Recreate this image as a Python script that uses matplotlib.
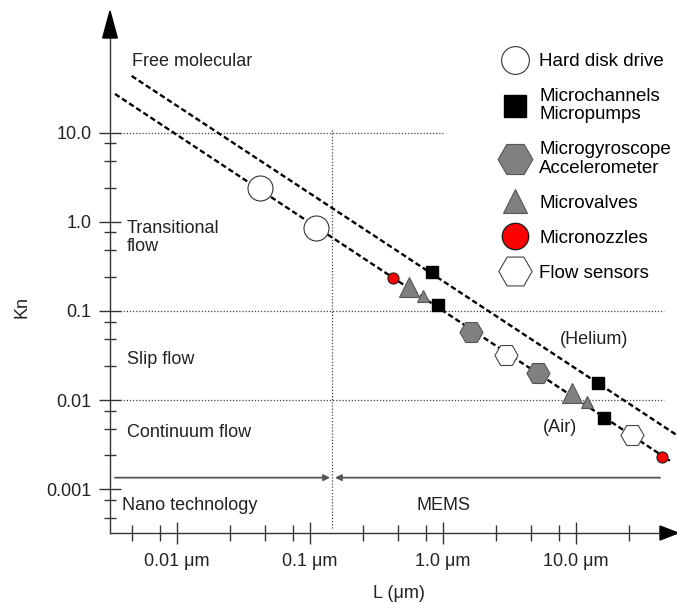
import numpy as np
import matplotlib.pyplot as plt
from matplotlib.lines import Line2D
from matplotlib.patches import Polygon
from matplotlib.ticker import NullFormatter

plt.rcParams['font.family'] = ['Liberation Sans', 'DejaVu Sans']
TXT = '#222222'
AX = '#333333'

# ---- data (L in um, Kn dimensionless)
air_line_L = [0.00344, 50.8]
air_line_Kn = [27.2, 0.00209]
he_line_L = [0.00459, 57.1]
he_line_Kn = [43.3, 0.00406]

hdd_L = [0.0423, 0.1106]
hdd_Kn = [2.38, 0.847]
chan_L = [0.828, 0.914, 14.71, 16.32]
chan_Kn = [0.274, 0.1168, 0.0157, 0.00635]
gyro_L = [1.618, 5.155]
gyro_Kn = [0.0586, 0.020]
valve_big_L = [0.559, 9.28]
valve_big_Kn = [0.1873, 0.01193]
valve_small_L = [0.712, 12.0]
valve_small_Kn = [0.1484, 0.00946]
nozzle_L = [0.424, 44.5]
nozzle_Kn = [0.236, 0.00232]
sensor_L = [2.98, 26.2]
sensor_Kn = [0.0321, 0.00406]

x_major = [0.01, 0.1, 1.0, 10.0]
x_major_labels = ["0.01 μm", "0.1 μm", "1.0 μm", "10.0 μm"]
y_major = [10.0, 1.0, 0.1, 0.01, 0.001]
y_major_labels = ["10.0", "1.0", "0.1", "0.01", "0.001"]

# regime boundaries
regime_Kn = [10.0, 0.1, 0.01]
regime_end_L = [1.0, 46.0, 46.0]
nano_mems_L = 0.146
scale_Kn = 0.00135

W, H = 677, 603


def fx(px):
    return px / W


def fy(py):
    return 1 - py / H


fig = plt.figure(figsize=(W / 100, H / 100), dpi=100)
ax = fig.add_axes([fx(110), fy(533), fx(660) - fx(110), fy(38) - fy(533)])
ax.set_xscale('log')
ax.set_yscale('log')
ax.set_xlim(3.155e-3, 42.78)
ax.set_ylim(3.234e-4, 115.4)

for s in ['top', 'right']:
    ax.spines[s].set_visible(False)
for s in ['left', 'bottom']:
    ax.spines[s].set_color(AX)
    ax.spines[s].set_linewidth(1.0)

# ticks
x_minor = [m * d for d in [0.001, 0.01, 0.1, 1, 10] for m in [2.5, 4.6, 7.5]]
x_minor = [v for v in x_minor if 3.2e-3 < v < 42]
y_minor = [m * d for d in [1e-4, 1e-3, 1e-2, 0.1, 1] for m in [2.4, 4.8, 7.6]]
y_minor = [v for v in y_minor if 3.3e-4 < v < 10]
ax.set_xticks(x_major)
ax.set_xticklabels(x_major_labels)
ax.set_xticks(x_minor, minor=True)
ax.set_yticks(y_major)
ax.set_yticklabels(y_major_labels)
ax.set_yticks(y_minor, minor=True)
ax.xaxis.set_minor_formatter(NullFormatter())
ax.yaxis.set_minor_formatter(NullFormatter())
ax.tick_params(which='major', direction='inout', length=16, width=1.0,
               color=AX, labelsize=13, labelcolor=TXT)
ax.tick_params(which='minor', direction='inout', width=1.0, color=AX)
ax.tick_params(axis='x', which='minor', length=12)
ax.tick_params(axis='y', which='minor', length=8.5)
ax.tick_params(axis='x', which='major', pad=6.5)
ax.tick_params(axis='y', which='major', pad=5.5)

# axis arrows
ax_px_w, ax_px_h = 550.0, 495.0
ax.add_patch(Polygon([(-7.3 / ax_px_w, 1), (7.3 / ax_px_w, 1), (0, 1 + 27 / ax_px_h)],
                     closed=True, color='black', transform=ax.transAxes, clip_on=False))
ax.add_patch(Polygon([(1, -7 / ax_px_h), (1, 7 / ax_px_h), (1 + 18 / ax_px_w, 0)],
                     closed=True, color='black', transform=ax.transAxes, clip_on=False))

# regime dotted lines
for k, le in zip(regime_Kn, regime_end_L):
    ax.plot([3.75e-3, le], [k, k], ls=(0, (1, 1.5)), color='#444444', lw=0.9,
            clip_on=False)
ax.plot([nano_mems_L, nano_mems_L], [3.68e-4, 11.3], ls=(0, (1, 1.5)),
        color='#444444', lw=0.9)

# nano / MEMS arrows
ax.annotate('', xy=(0.142, scale_Kn), xytext=(0.00344, scale_Kn),
            arrowprops=dict(arrowstyle='-|>', color='#555555', lw=1.3,
                            mutation_scale=9, shrinkA=0, shrinkB=0))
ax.annotate('', xy=(0.1546, scale_Kn), xytext=(42.8, scale_Kn),
            arrowprops=dict(arrowstyle='-|>', color='#555555', lw=1.3,
                            mutation_scale=9, shrinkA=0, shrinkB=0))

# mean free path lines
dash = dict(color='black', lw=1.7, dashes=(2.3, 1.3), clip_on=False, zorder=2)
ax.plot(air_line_L, air_line_Kn, **dash)
ax.plot(he_line_L, he_line_Kn, **dash)

# markers
ax.plot(hdd_L, hdd_Kn, 'o', ms=18, mfc='white', mec='#333333', mew=0.8, ls='none', zorder=3)
ax.plot(gyro_L, gyro_Kn, 'H', ms=16.6, mfc='#808080', mec='#555555', mew=0.8, ls='none', zorder=3)
ax.plot(sensor_L, sensor_Kn, 'H', ms=16.6, mfc='white', mec='#444444', mew=0.8, ls='none', zorder=3)
ax.plot(valve_big_L, valve_big_Kn, '^', ms=14.4, mfc='#808080', mec='#555555', mew=0.8, ls='none', zorder=3)
ax.plot(valve_small_L, valve_small_Kn, '^', ms=8.8, mfc='#808080', mec='#555555', mew=0.8, ls='none', zorder=4)
ax.plot(chan_L, chan_Kn, 's', ms=8.6, mfc='black', mec='black', ls='none', zorder=4)
ax.plot(nozzle_L, nozzle_Kn, 'o', ms=8, mfc='red', mec='#222222', mew=0.8, ls='none',
        zorder=4, clip_on=False)

# legend
handles = [
    Line2D([], [], marker='o', ms=20, mfc='white', mec='#333333', mew=0.8, ls='none'),
    Line2D([], [], marker='s', ms=15.8, mfc='black', mec='black', ls='none'),
    Line2D([], [], marker='H', ms=25, mfc='#808080', mec='#555555', mew=0.8, ls='none'),
    Line2D([], [], marker='^', ms=16.6, mfc='#808080', mec='#555555', mew=0.8, ls='none'),
    Line2D([], [], marker='o', ms=19, mfc='red', mec='#222222', mew=1.0, ls='none'),
    Line2D([], [], marker='H', ms=24, mfc='white', mec='#444444', mew=0.8, ls='none'),
]
labels = ["Hard disk drive", "Microchannels\nMicropumps", "Microgyroscope\nAccelerometer",
          "Microvalves", "Micronozzles", "Flow sensors"]
leg = ax.legend(handles, labels, loc='upper left', bbox_to_anchor=(fx(500), fy(53)),
                bbox_transform=fig.transFigure, frameon=False, fontsize=13.5,
                handlelength=1.6, handletextpad=0.5, labelspacing=0.95,
                borderpad=0, borderaxespad=0)
for t in leg.get_texts():
    t.set_color('black')
    t.set_linespacing(1.12)

# region annotations
txt = dict(fontsize=13, color=TXT, va='center', ha='left')
fig.text(fx(132), fy(61), "Free molecular", **txt)
fig.text(fx(127), fy(237.5), "Transitional\nflow", linespacing=1.1, **txt)
fig.text(fx(127), fy(360), "Slip flow", **txt)
fig.text(fx(127), fy(432.5), "Continuum flow", **txt)
fig.text(fx(122), fy(505.5), "Nano technology", **txt)
fig.text(fx(417), fy(505), "MEMS", **txt)
fig.text(fx(560), fy(339), "(Helium)", **txt)
fig.text(fx(543), fy(428), "(Air)", **txt)
fig.text(fx(21.5), fy(307.5), "Kn", rotation=90, fontsize=13, color=TXT,
         ha='center', va='center')
fig.text(fx(398.5), fy(593), "L (μm)", fontsize=13, color=TXT, ha='center', va='center')

fig.savefig('out.png', dpi=100)
